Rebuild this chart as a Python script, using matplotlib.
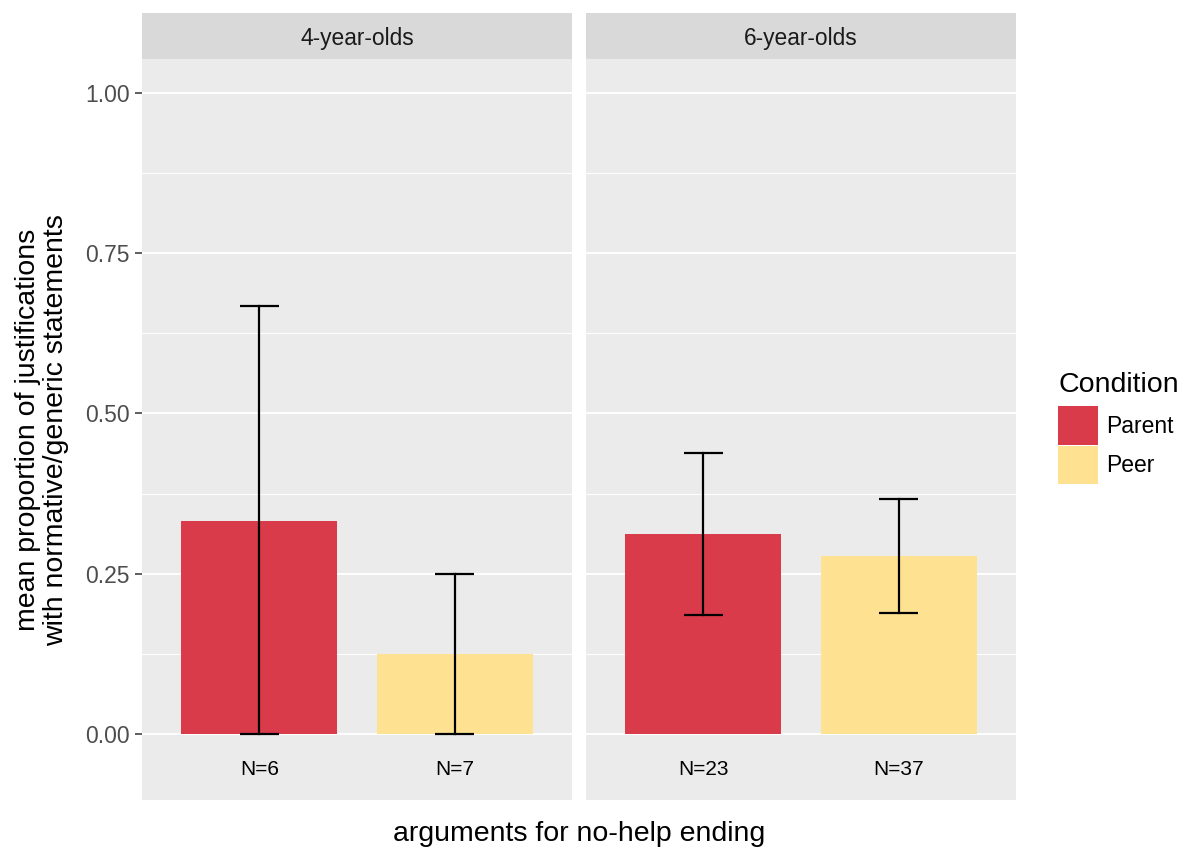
import matplotlib.pyplot as plt
import numpy as np

plt.rcParams['font.family'] = ['Liberation Sans', 'DejaVu Sans']

# data
ages = ["4-year-olds", "6-year-olds"]
conditions = ["Parent", "Peer"]
means = [[0.333, 0.125], [0.312, 0.277]]
err_low = [[0.0, 0.0], [0.185, 0.189]]
err_high = [[0.667, 0.25], [0.439, 0.367]]
n_labels = [["N=6", "N=7"], ["N=23", "N=37"]]

colors = {"Parent": "#DA3B4A", "Peer": "#FFE291"}
panel_bg = "#EBEBEB"
strip_bg = "#D9D9D9"

W, H = 1187, 850
fig = plt.figure(figsize=(W / 100, H / 100), dpi=100)

def fx(px):
    return px / W

def fy(py):
    return 1 - py / H

panel_left = [142, 586]
panel_w = 430
top, bottom = 59, 800
strip_top = 13

ymin, ymax = -0.103, 1.053

for i, age in enumerate(ages):
    ax = fig.add_axes([fx(panel_left[i]), fy(bottom), fx(panel_w), fy(top) - fy(bottom)])
    ax.set_facecolor(panel_bg)
    for s in ax.spines.values():
        s.set_visible(False)
    ax.set_xlim(0.4, 2.6)
    ax.set_ylim(ymin, ymax)
    ax.set_yticks([0, 0.25, 0.5, 0.75, 1.0])
    ax.set_yticks([0.125, 0.375, 0.625, 0.875], minor=True)
    ax.grid(True, which='major', axis='y', color='white', linewidth=1.4)
    ax.grid(True, which='minor', axis='y', color='white', linewidth=0.7)
    ax.set_axisbelow(True)
    ax.set_xticks([])
    ax.tick_params(axis='y', which='minor', length=0)
    if i == 0:
        ax.set_yticklabels(["0.00", "0.25", "0.50", "0.75", "1.00"])
        ax.tick_params(axis='y', which='major', length=5, width=1.1, color='#333333',
                       labelsize=16.5, labelcolor='#4D4D4D', pad=4)
    else:
        ax.tick_params(axis='y', which='major', length=0, labelleft=False)

    x = np.arange(1, len(conditions) + 1)
    for j, cond in enumerate(conditions):
        ax.bar(x[j], means[i][j], width=0.8, color=colors[cond], zorder=2,
               label=cond if i == 0 else None)
        ax.plot([x[j], x[j]], [err_low[i][j], err_high[i][j]], color='black', lw=1.6, zorder=3)
        for yv in (err_low[i][j], err_high[i][j]):
            ax.plot([x[j] - 0.1, x[j] + 0.1], [yv, yv], color='black', lw=1.6, zorder=3,
                    solid_capstyle='butt')
        ax.text(x[j], -0.055, n_labels[i][j], ha='center', va='center', fontsize=15,
                color='black')

    # facet strip
    sax = fig.add_axes([fx(panel_left[i]), fy(top), fx(panel_w), fy(strip_top) - fy(top)])
    sax.set_facecolor(strip_bg)
    sax.set_xticks([])
    sax.set_yticks([])
    for s in sax.spines.values():
        s.set_visible(False)
    sax.text(0.5, 0.45, age, ha='center', va='center', fontsize=16.4, color='#1A1A1A',
             transform=sax.transAxes)

    if i == 0:
        handles, labels = ax.get_legend_handles_labels()

fig.text(fx(42), fy(430), "mean proportion of justifications\nwith normative/generic statements",
         rotation=90, ha='center', va='center', fontsize=20.5, linespacing=1.1)
fig.text(fx((142 + 1016) / 2), fy(834), "arguments for no-help ending", ha='center',
         va='center', fontsize=20.5)

leg = fig.legend(handles, labels, title="Condition", loc='upper left',
                 bbox_to_anchor=(fx(1058), fy(372)), frameon=False, fontsize=16.5,
                 title_fontsize=20.5, handlelength=1.75, handleheight=2.2,
                 handletextpad=0.35, labelspacing=0.05, borderpad=0, borderaxespad=0)
leg._legend_box.align = "left"
leg._legend_box.sep = 6

fig.savefig("out.png", dpi=100)
